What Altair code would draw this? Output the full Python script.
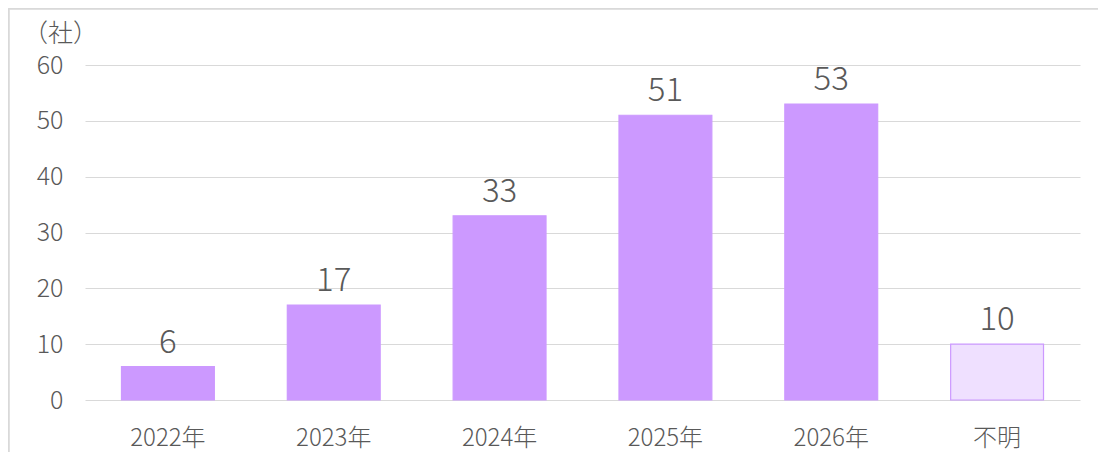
import altair as alt
import pandas as pd

categories = ["2022年", "2023年", "2024年", "2025年", "2026年", "不明"]
values = [6, 17, 33, 51, 53, 10]
kinds = ["known", "known", "known", "known", "known", "unknown"]

df = pd.DataFrame({"cat": categories, "value": values, "kind": kinds})

FONT = "Noto Sans CJK JP"
TXT = "#595959"
GRID = "#d9d9d9"

x_enc = alt.X("cat:N", sort=categories,
              scale=alt.Scale(paddingInner=0.44, paddingOuter=0.22),
              axis=alt.Axis(title=None, labelAngle=0, labelFont=FONT, labelFontSize=24,
                            labelFontWeight=300, labelBaseline="top",
                            labelColor=TXT, labelPadding=26, ticks=False, domain=False,
                            grid=False))
y_enc = alt.Y("value:Q", scale=alt.Scale(domain=[0, 60], nice=False),
              axis=alt.Axis(values=[0, 10, 20, 30, 40, 50, 60], title="（社）",
                            titleAngle=0, titleX=-25, titleY=-32, titleAlign="center",
                            titleBaseline="middle", titleFont=FONT, titleFontSize=25,
                            titleFontWeight=300, titleColor=TXT,
                            labelFont=FONT, labelFontSize=25, labelFontWeight=300,
                            labelColor=TXT, labelPadding=22, ticks=False, domain=False,
                            gridColor=GRID, gridWidth=1))

bars = alt.Chart(df).mark_bar(strokeWidth=1.2).encode(
    x=x_enc, y=y_enc,
    fill=alt.Fill("kind:N", scale=alt.Scale(domain=["known", "unknown"],
                                           range=["#cc99ff", "#efe0ff"]), legend=None),
    stroke=alt.Stroke("kind:N", scale=alt.Scale(domain=["known", "unknown"],
                                               range=["#cc99ff", "#cc99ff"]), legend=None),
)

labels = alt.Chart(df).mark_text(font=FONT, fontSize=33, fontWeight=300, color=TXT,
                                 baseline="alphabetic", dy=-14).encode(
    x=alt.X("cat:N", sort=categories), y="value:Q", text="value:Q")

frame_left = alt.Chart(df).mark_rule(color=GRID, strokeWidth=1.5).encode(
    x=alt.value(-76.5), y=alt.value(-56.5), y2=alt.value(400))
frame_top = alt.Chart(df).mark_rule(color=GRID, strokeWidth=1.5).encode(
    x=alt.value(-76.5), x2=alt.value(1100), y=alt.value(-56.5))

chart = alt.layer(bars, labels, frame_left, frame_top).properties(
    width=995, height=335,
    background="white",
    autosize=alt.AutoSizeParams(type="none"),
    padding={"left": 77, "top": 57, "right": 18, "bottom": 52},
).configure_view(stroke="transparent", strokeWidth=0)

chart.save("out.html", embed_options={"renderer": "svg", "actions": False})
